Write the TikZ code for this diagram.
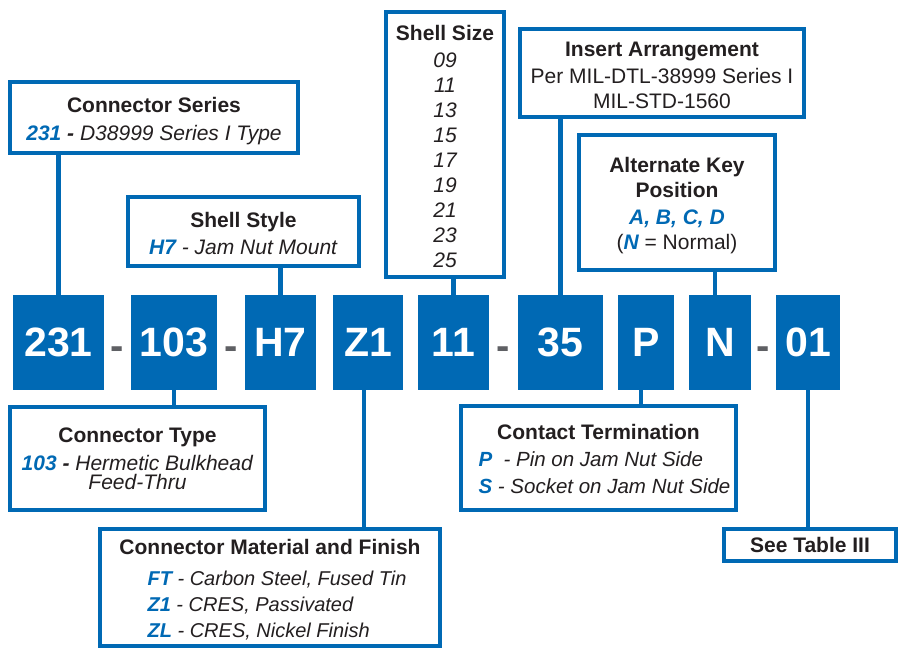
\documentclass[tikz,border=0pt]{standalone}
\usepackage{fontspec}
\setmainfont{Liberation Sans}
\usetikzlibrary{positioning, calc}
\definecolor{cblue}{RGB}{0,105,180}
\definecolor{ink}{RGB}{35,31,32}
\definecolor{dashgray}{RGB}{95,96,100}
\newcommand{\kcode}[1]{\textcolor{cblue}{\bfseries\itshape #1}}
\newcommand{\toprule}[1]{\rule{0pt}{#1}}

\begin{document}
\begin{tikzpicture}[
      x=1pt, y=-1pt,
      code/.style={rectangle, fill=cblue, text=white, inner sep=0pt, outer sep=0pt,
        minimum height=95pt, font=\fontsize{41}{41}\selectfont\bfseries},
      sepmark/.style={text=dashgray, inner sep=0pt, anchor=base,
        font=\fontsize{40}{40}\selectfont\bfseries},
      desc/.style={rectangle, draw=cblue, line width=4pt, fill=white, text=ink,
        inner sep=0pt, align=center, font=\fontsize{21}{26}\selectfont},
      link/.style={draw=cblue, line width=4.5pt}
    ]
      \useasboundingbox (0,0) rectangle (899,656);

      % Part number
      \node[code, minimum width=91pt] (c231) at (58.5,342.5) {231};
      \node[code, minimum width=86pt, right=27pt of c231] (c103) {103};
      \node[code, minimum width=71pt, right=28pt of c103] (cH7) {H7};
      \node[code, minimum width=70pt, right=17pt of cH7] (cZ1) {Z1};
      \node[code, minimum width=71pt, right=15pt of cZ1] (c11) {11};
      \node[code, minimum width=85pt, right=29pt of c11] (c35) {35};
      \node[code, minimum width=56pt, right=15pt of c35] (cP) {P};
      \node[code, minimum width=62pt, right=15pt of cP] (cN) {N};
      \node[code, minimum width=64pt, right=25pt of cN] (c01) {01};

      % Separators
      \node[sepmark] (s1) at ($(c231.east)!0.5!(c103.west)+(0,17)$) {-};
      \node[sepmark] (s2) at ($(c103.east)!0.5!(cH7.west)+(0,17)$) {-};
      \node[sepmark] (s3) at ($(c11.east)!0.5!(c35.west)+(0,17)$) {-};
      \node[sepmark] (s4) at ($(cN.east)!0.5!(c01.west)+(0,17)$) {-};

      % Upper boxes
      \node[desc, minimum width=288pt, minimum height=71pt] (series) at (154,117.5)
        {\toprule{23pt}\textbf{Connector Series}\\[2pt]
         \textit{\kcode{231} \textbf{-} D38999 Series I Type}};
      \node[desc, minimum width=231pt, minimum height=69pt] (style) at (243.5,231.5)
        {\toprule{19pt}\textbf{Shell Style}\\[1pt]
         \textit{\kcode{H7} - Jam Nut Mount}};
      \node[desc, minimum width=118pt, minimum height=265pt,
        font=\fontsize{21}{25}\selectfont\itshape] (size) at (445,144.5)
        {\toprule{19pt}{\upshape\bfseries Shell Size}\\[2pt]
         09\\11\\13\\15\\17\\19\\21\\23\\25};
      \node[desc, minimum width=284pt, minimum height=88pt] (insert) at (662,73)
        {\toprule{19pt}\textbf{Insert Arrangement}\\[1pt]
         Per MIL-DTL-38999 Series I\\[-1pt]
         MIL-STD-1560};
      \node[desc, minimum width=196pt, minimum height=135pt] (key) at (677,202.5)
        {\toprule{21pt}\textbf{Alternate Key}\\[-1pt]
         \textbf{Position}\\[1pt]
         \kcode{A, B, C, D}\\[-1pt]
         (\kcode{N} = Normal)};

      % Lower boxes
      \node[desc, minimum width=255pt, minimum height=103pt] (type) at (137.5,458.5)
        {\textbf{Connector Type}\\[2pt]
         \textit{\kcode{103} \textbf{-} Hermetic Bulkhead}\\[-7pt]
         \textit{Feed-Thru}};
      \node[desc, minimum width=340pt, minimum height=117pt] (mat) at (270,587.5)
        {\toprule{24pt}\textbf{Connector Material and Finish}\\[5pt]
         \hspace*{14pt}{\fontsize{20}{26}\selectfont
         \begin{tabular}[t]{@{}l@{}}
           \itshape\kcode{FT} - Carbon Steel, Fused Tin\\
           \itshape\kcode{Z1} - CRES, Passivated\\
           \itshape\kcode{ZL} - CRES, Nickel Finish
         \end{tabular}}};
      \node[desc, minimum width=275pt, minimum height=104pt] (term) at (598.5,458)
        {\toprule{25pt}\textbf{Contact Termination}\\[1pt]
         \hspace*{12pt}{\fontsize{20.5}{26}\selectfont
         \begin{tabular}[t]{@{}l@{}}
           \itshape\kcode{P}\ \ - Pin on Jam Nut Side\\[1pt]
           \itshape\kcode{S} - Socket on Jam Nut Side
         \end{tabular}}};
      \node[desc, minimum width=172pt, minimum height=32pt] (table) at (810,545)
        {\textbf{See Table III}};

      % Leader points
      \coordinate (kZ1) at ([xshift=-4pt]cZ1.south);
      \coordinate (kP) at ([xshift=-5pt]cP.south);
      \coordinate (kN) at ([xshift=-5pt]cN.north);

      % Connections
      \draw[link] (c231.north) -- (c231.north |- series.south);
      \draw[link] (cH7.north) -- (cH7.north |- style.south);
      \draw[link] (c11.north) -- (c11.north |- size.south);
      \draw[link] (c35.north) -- (c35.north |- insert.south);
      \draw[link] (kN) -- (kN |- key.south);
      \draw[link] (c103.south) -- (c103.south |- type.north);
      \draw[link] (kZ1) -- (kZ1 |- mat.north);
      \draw[link] (kP) -- (kP |- term.north);
      \draw[link] (c01.south) -- (c01.south |- table.north);
    \end{tikzpicture}
\end{document}
